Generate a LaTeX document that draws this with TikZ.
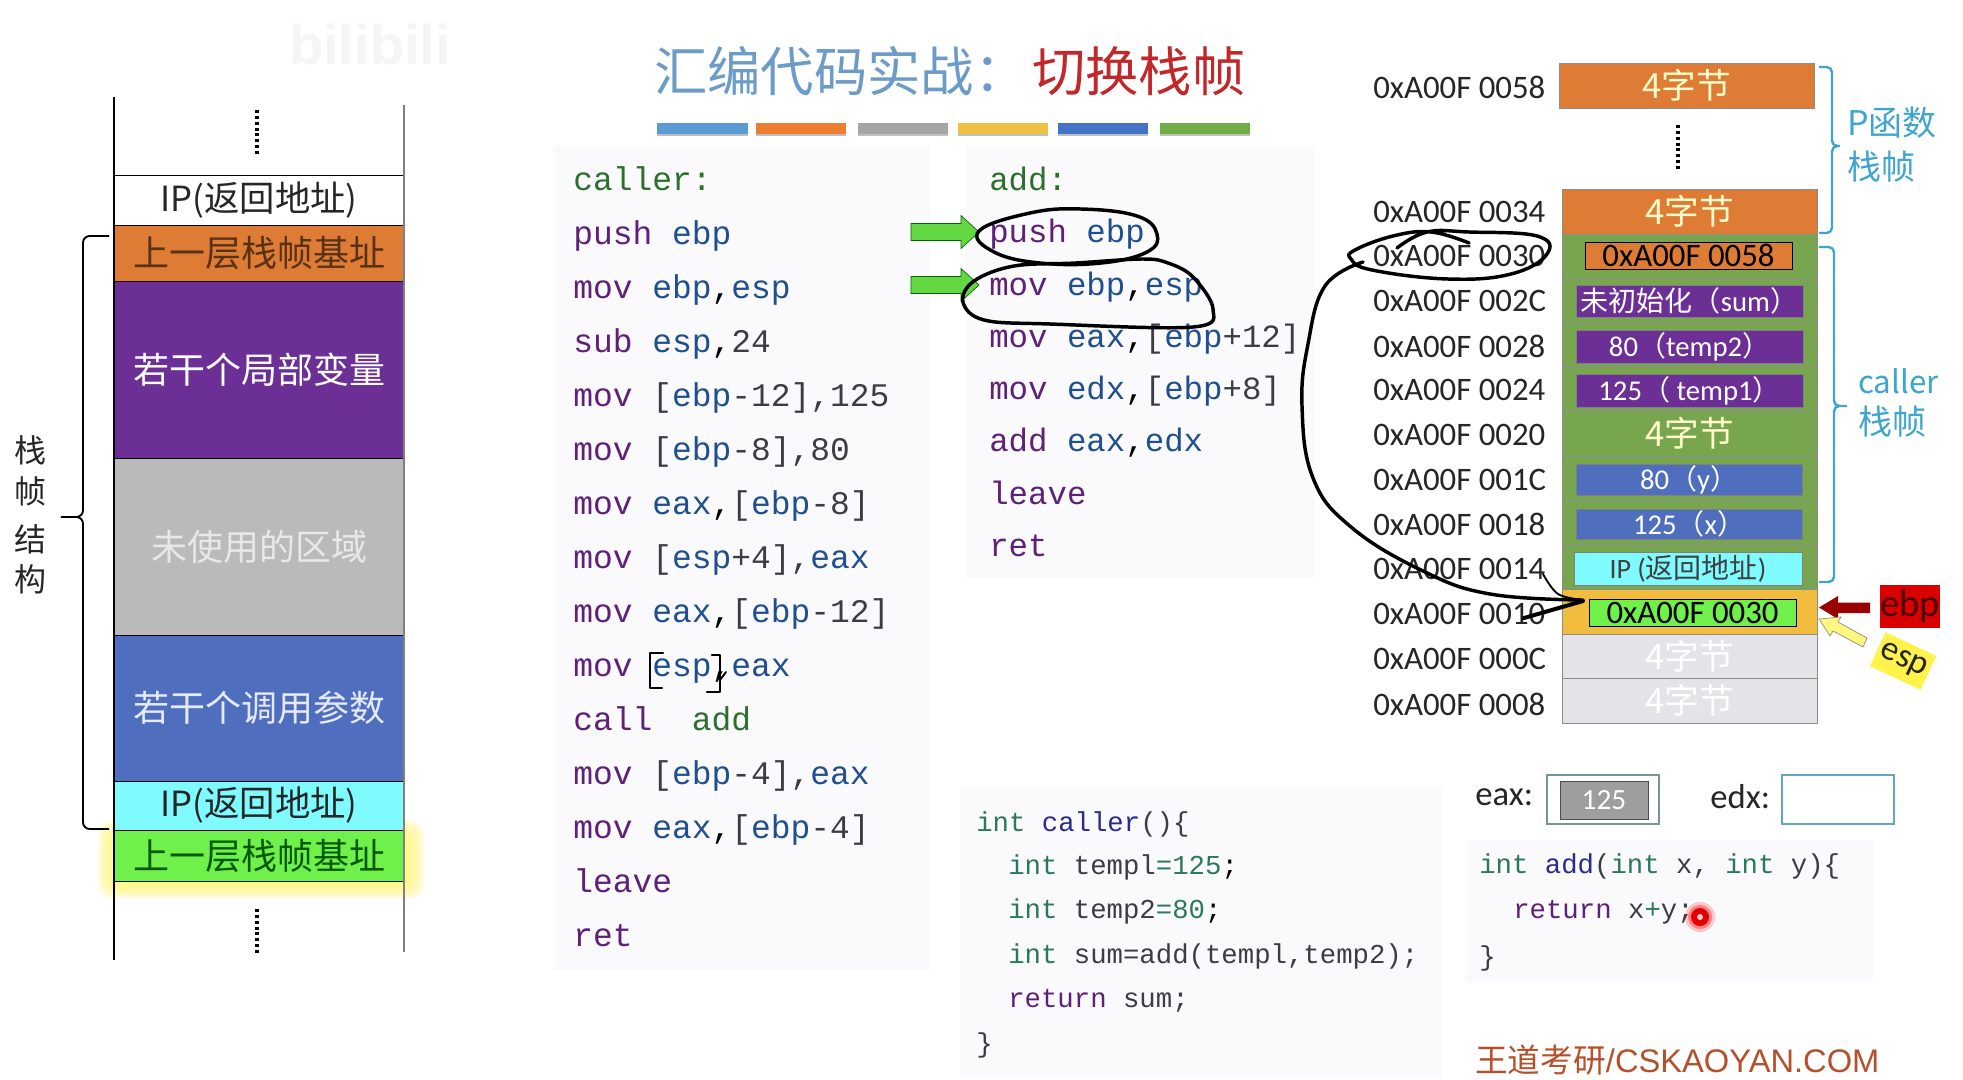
\documentclass[tikz,border=0pt]{standalone}
\usepackage{fontspec}
\setmainfont{Carlito}
\newfontfamily\zh{Noto Sans CJK SC}
\newfontfamily\mono{Liberation Mono}
\newfontfamily\lib{Liberation Sans}
\newcommand{\fs}[1]{\fontsize{#1}{#1}\selectfont}
\definecolor{kwc}{HTML}{5E2078}
\definecolor{regc}{HTML}{1F4F8F}
\definecolor{numc}{HTML}{3C3C44}
\definecolor{labc}{HTML}{2C702C}
\definecolor{intc}{HTML}{2A7A5A}
\definecolor{fnc}{HTML}{2A2A90}
\definecolor{panel}{HTML}{FAF9FC}
\definecolor{bluebr}{HTML}{3FA5D0}
\definecolor{rowgreen}{HTML}{78A64E}
\definecolor{rowor}{HTML}{DE7C36}
\definecolor{purp}{HTML}{6B2F96}
\definecolor{stblue}{HTML}{4F6FBE}
\definecolor{titleblue}{HTML}{6C9BC8}
\definecolor{titlered}{HTML}{C0282A}
\definecolor{rust}{HTML}{B5502A}
\definecolor{lgray}{HTML}{E4E4E8}
\definecolor{lcyan}{HTML}{7FFBFF}
\definecolor{lgreen}{HTML}{6FF04A}
\definecolor{rowyel}{HTML}{F2BC3E}
\definecolor{paleyel}{HTML}{FFF24A}
\newcommand{\K}[1]{\textcolor{kwc}{#1}}
\newcommand{\R}[1]{\textcolor{regc}{#1}}
\newcommand{\N}[1]{\textcolor{numc}{#1}}
\newcommand{\G}[1]{\textcolor{labc}{#1}}
\newcommand{\I}[1]{\textcolor{intc}{#1}}
\newcommand{\F}[1]{\textcolor{fnc}{#1}}
\newcommand{\bx}[7]{%
  \pgfmathsetmacro\bxa{(#2+#4)/2}\pgfmathsetmacro\bxb{(#3+#5)/2}%
  \pgfmathsetmacro\bxw{(#4-#2)*0.75}\pgfmathsetmacro\bxh{(#5-#3)*0.75}%
  \node[#6,minimum width=\bxw pt,minimum height=\bxh pt,inner sep=0pt,outer sep=0pt] (#1) at (\bxa,\bxb) {#7};}
\tikzset{
  code/.style={anchor=base west,inner sep=0pt,font=\mono\fs{24.7}},
  addcode/.style={anchor=base west,inner sep=0pt,font=\mono\fs{24.3}},
  ccode/.style={anchor=base west,inner sep=0pt,font=\mono\fs{20.5}},
  addr/.style={anchor=west,inner sep=0pt,font=\fs{24.6},text=black!85},
  lrow/.style={draw=black,line width=0.7pt,font=\zh\fs{27}},
  rrow/.style={draw=black!45,line width=0.5pt,font=\zh\fs{26}},
  inner/.style={draw=black!50,line width=0.5pt,font=\fs{21.5},text=white},
  ink/.style={draw=black,line width=2.6pt,line cap=round,line join=round},
  bluebrace/.style={draw=bluebr,line width=1.8pt,rounded corners=4pt},
  bluetext/.style={anchor=west,inner sep=0pt,text=bluebr,font=\zh\fs{25.5}},
  dotsv/.style={draw=black,line width=2.4pt,dash pattern=on 2.2pt off 2.2pt},
}
\begin{document}
\begin{tikzpicture}[x=0.75pt,y=-0.75pt]
\useasboundingbox (0,0) rectangle (1963,1079);
\fill[white] (0,0) rectangle (1963,1079);

% faint watermark
\node[inner sep=0pt,text=black!4,font=\lib\bfseries\fs{42}] (wm) at (370,44) {bilibili};

% panels
\fill[panel] (553,145) rectangle (930,970);
\fill[panel] (966,145) rectangle (1315,578);
\fill[panel] (960,787) rectangle (1442,1079);
\fill[panel] (1465,840) rectangle (1873,983);

% title
\node[anchor=west,inner sep=0pt,text=titleblue,font=\zh\fs{40}] (t1) at (654,71) {汇编代码实战：};
\node[anchor=west,inner sep=0pt,text=titlered,font=\zh\fs{40}] (t2) at (1032,71) {切换栈帧};

% colour bars
\foreach \a/\b/\c in {657/748/5B9BD5,756/846/ED7D31,858/948/A5A5A5,958/1048/F0C040,1058/1148/4472C4,1160/1250/70AD47}{
  \fill[black!25] (\a,126) rectangle (\b,136);
  \definecolor{tmpc}{HTML}{\c}
  \fill[tmpc] (\a,123) rectangle (\b,134);
}

% left stack: glow
\foreach \i in {0,1,...,16}{
  \fill[yellow!55,opacity=0.08,rounded corners=10pt] (97+\i,820+\i*0.8) rectangle (425-\i,899-\i*0.8);
}
\bx{s1}{114}{175}{404}{225}{lrow,fill=white,text=black!85}{{\fs{26}IP(}{\fs{26.5}返回地址}{\fs{26})}}
\bx{s2}{114}{225}{404}{281}{lrow,fill=rowor,text=black!60!rowor}{上一层栈帧基址}
\bx{s3}{114}{281}{404}{458}{lrow,fill=purp,text=white}{若干个局部变量}
\bx{s4}{114}{458}{404}{635}{lrow,fill=black!27,text=black!9}{未使用的区域}
\bx{s5}{114}{635}{404}{781}{lrow,fill=stblue,text=white!85!stblue}{若干个调用参数}
\bx{s6}{114}{781}{404}{830}{lrow,fill=lcyan,text=black!85}{{\fs{26}IP(}{\fs{26.5}返回地址}{\fs{26})}}
\bx{s7}{114}{830}{404}{881}{lrow,fill=lgreen,text=black!65!green}{上一层栈帧基址}
\draw[black,line width=1pt] (114,97) -- (114,960);
\draw[black!50,line width=1.3pt] (404,105) -- (404,952);
\draw[dotsv] (257,110) -- (257,156);
\draw[dotsv] (257,909) -- (257,953);
\draw[black,line width=1.4pt,rounded corners=5pt] (109,236) -- (83,236) -- (83,517) -- (57,517) -- (83,517) -- (83,829) -- (109,829);
\foreach \ch/\yy/\nm in {栈/450/a,帧/491/b,结/539/c,构/579/d}{
  \node[inner sep=0pt,text=black!85,font=\zh\fs{24}] (side\nm) at (30,\yy) {\ch};
}

% code: caller
\node[code] (c0) at (573,190) {\G{caller:}};
\node[code] (c1) at (573,244) {\K{push} \R{ebp}};
\node[code] (c2) at (573,298) {\K{mov} \R{ebp},\R{esp}};
\node[code] (c3) at (573,352) {\K{sub} \R{esp},\N{24}};
\node[code] (c4) at (573,406) {\K{mov} \N{[}\R{ebp}\N{-12],125}};
\node[code] (c5) at (573,460) {\K{mov} \N{[}\R{ebp}\N{-8],80}};
\node[code] (c6) at (573,514) {\K{mov} \R{eax},\N{[}\R{ebp}\N{-8]}};
\node[code] (c7) at (573,568) {\K{mov} \N{[}\R{esp}\N{+4],}\R{eax}};
\node[code] (c8) at (573,622) {\K{mov} \R{eax},\N{[}\R{ebp}\N{-12]}};
\node[code] (c9) at (573,676) {\K{mov} \R{esp},\R{eax}};
\node[code] (c10) at (573,730) {\K{call}\ \ \G{add}};
\node[code] (c11) at (573,784) {\K{mov} \N{[}\R{ebp}\N{-4],}\R{eax}};
\node[code] (c12) at (573,838) {\K{mov} \R{eax},\N{[}\R{ebp}\N{-4]}};
\node[code] (c13) at (573,892) {\K{leave}};
\node[code] (c14) at (573,946) {\K{ret}};

% code: add
\node[addcode] (a0) at (989,190) {\G{add:}};
\node[addcode] (a1) at (989,242) {\K{push} \R{ebp}};
\node[addcode] (a2) at (989,295) {\K{mov} \R{ebp},\R{esp}};
\node[addcode] (a3) at (989,347) {\K{mov} \R{eax},\N{[}\R{ebp}\N{+12]}};
\node[addcode] (a4) at (989,399) {\K{mov} \R{edx},\N{[}\R{ebp}\N{+8]}};
\node[addcode] (a5) at (989,451) {\K{add} \R{eax},\R{edx}};
\node[addcode] (a6) at (989,504) {\K{leave}};
\node[addcode] (a7) at (989,556) {\K{ret}};

% C code
\node[ccode] (k0) at (976,831) {\I{int} \F{caller}\N{()\{}};
\node[ccode] (k1) at (1008,874) {\I{int} \N{templ}\I{=125};};
\node[ccode] (k2) at (1008,918) {\I{int} \N{temp2}\I{=80};};
\node[ccode] (k3) at (1008,963) {\I{int} \N{sum=add(templ,temp2);}};
\node[ccode] (k4) at (1008,1007) {\K{return} \N{sum;}};
\node[ccode] (k5) at (976,1052) {\N{\}}};
\node[ccode] (m0) at (1479,873) {\I{int} \F{add}\N{(}\I{int} \N{x,} \I{int} \N{y)\{}};
\node[ccode] (m1) at (1513,918) {\K{return} \N{x}\I{+}\N{y;}};
\node[ccode] (m2) at (1479,965) {\N{\}}};

% green arrows
\foreach \yc in {232,285}{
  \fill[fill=lgreen!90!black,draw=black!60!green,line width=0.5pt]
    (911,\yc-8.5) -- (961,\yc-8.5) -- (961,\yc-16.5) -- (979,\yc) -- (961,\yc+16.5) -- (961,\yc+8.5) -- (911,\yc+8.5) -- cycle;
}

% right stack
\bx{r58}{1559}{63}{1814}{108}{rrow,fill=rowor,text=white!80!yellow}{4字节}
\draw[dotsv] (1678,125) -- (1678,169);
\bx{r34}{1562}{189}{1817}{234}{rrow,fill=rowor,text=white!80!yellow}{4字节}
\bx{r30}{1562}{234}{1817}{278}{rrow,fill=rowgreen}{}
\bx{r2C}{1562}{278}{1817}{322}{rrow,fill=rowgreen}{}
\bx{r28}{1562}{322}{1817}{367}{rrow,fill=rowgreen}{}
\bx{r24}{1562}{367}{1817}{411}{rrow,fill=rowgreen}{}
\bx{r20}{1562}{411}{1817}{456}{rrow,fill=rowgreen,text=white!80!yellow}{4字节}
\bx{r1C}{1562}{456}{1817}{501}{rrow,fill=rowgreen}{}
\bx{r18}{1562}{501}{1817}{545}{rrow,fill=rowgreen}{}
\bx{r14}{1562}{545}{1817}{589}{rrow,fill=rowgreen}{}
\bx{r10}{1562}{589}{1817}{634}{rrow,fill=rowyel}{}
\bx{r0C}{1562}{634}{1817}{678}{rrow,fill=lgray,text=white}{4字节}
\bx{r08}{1562}{678}{1817}{723}{rrow,fill=lgray,text=white}{4字节}
\bx{i30}{1585}{242}{1792}{269}{draw=black,line width=0.6pt,fill=rowor,font=\fs{24.6},text=black}{0xA00F 0058}
\bx{i2C}{1576}{285}{1803}{317}{inner,fill=purp}{{\zh\fs{21}未初始化（}sum{\zh\fs{21}）}}
\bx{i28}{1576}{330}{1803}{363}{inner,fill=purp}{80{\zh\fs{21}（}temp2{\zh\fs{21}）}}
\bx{i24}{1576}{374}{1803}{407}{inner,fill=purp}{125{\zh\fs{21}（} temp1{\zh\fs{21}）}}
\bx{i1C}{1576}{464}{1802}{495}{inner,fill=stblue}{80{\zh\fs{21}（}y{\zh\fs{21}）}}
\bx{i18}{1576}{509}{1802}{539}{inner,fill=stblue}{125{\zh\fs{21}（}x{\zh\fs{21}）}}
\bx{i14}{1574}{552}{1802}{585}{inner,fill=lcyan,text=black!75,font=\fs{21}}{IP ({\zh 返回地址})}
\bx{i10}{1589}{599}{1796}{626}{draw=black,line width=0.6pt,fill=lgreen,font=\fs{24.6},text=black}{0xA00F 0030}

% addresses
\foreach \t/\yy/\nm in {0xA00F 0058/87/a,0xA00F 0034/212/b,0xA00F 0030/256/c,0xA00F 002C/301/d,0xA00F 0028/346/e,0xA00F 0024/390/f,0xA00F 0020/435/g,0xA00F 001C/480/h,0xA00F 0018/524/i,0xA00F 0014/569/j,0xA00F 0010/614/k,0xA00F 000C/659/l,0xA00F 0008/704/m}{
  \node[addr] (addr\nm) at (1373,\yy) {\t};
}

% blue braces
\draw[bluebrace] (1819,67) -- (1832,67) -- (1832,146) -- (1843,146) -- (1832,146) -- (1832,233) -- (1819,233);
\draw[bluebrace] (1819,247) -- (1834,247) -- (1834,406) -- (1850,406) -- (1834,406) -- (1834,582) -- (1819,582);
\node[bluetext] (lp) at (1847,123) {P函数};
\node[bluetext] (lp2) at (1847,167) {栈帧};
\node[bluetext,font=\zh\fs{23.5}] (lc) at (1858,381) {caller};
\node[bluetext] (lc2) at (1858,422) {栈帧};

% ebp / esp
\bx{ebp}{1881}{585}{1939}{628}{fill=red!85!black,font=\fs{29},text=red!30!black}{ebp}
\fill[fill=red!60!black] (1870,602.5) -- (1838,602.5) -- (1838,596) -- (1819,607.5) -- (1838,619) -- (1838,613) -- (1870,613) -- cycle;
\draw[fill=paleyel!70!white,draw=black!45,line width=0.5pt] (1867,638) -- (1838,622) -- (1841,617) -- (1819,619) -- (1830,636) -- (1833,631) -- (1863,647) -- cycle;
\node[fill=paleyel,rotate=-25,minimum width=42pt,minimum height=28pt,inner sep=0pt,font=\fs{26},text=black!85] (esp) at (1903,661) {esp};

% eax / edx
\node[anchor=west,inner sep=0pt,font=\fs{26},text=black!85] (eaxl) at (1475,797) {eax:};
\bx{eaxo}{1547}{775}{1659}{824}{draw=black!30!cyan!40!gray,line width=1pt,fill=white}{}
\bx{eaxi}{1560}{781}{1648}{819}{draw=black!70,line width=0.7pt,fill=black!38,text=white,font=\fs{22}}{125}
\node[anchor=west,inner sep=0pt,font=\fs{26},text=black!85] (edxl) at (1710,797) {edx:};
\bx{edxo}{1782}{775}{1894}{824}{draw=cyan!50!gray,line width=1pt,fill=white}{}

% footer
\node[anchor=west,inner sep=0pt,text=rust] (foot) at (1475,1060) {{\zh\fs{24.5}王道考研}{\lib\fs{24.5}/CSKAOYAN.COM}};

% ink annotations
\draw[ink] plot[smooth cycle,tension=0.7] coordinates {(979,231) (1030,213) (1081,209) (1137,216) (1157,234) (1147,252) (1101,263) (1040,263) (994,252)};
\draw[ink] plot[smooth cycle,tension=0.6] coordinates {(1142,259) (1076,263) (1014,266) (974,281) (963,302) (984,320) (1050,324) (1193,327) (1213,309) (1193,277) (1168,263)};
\draw[ink,line width=1.8pt] (663,653) -- (650,653) -- (650,688) -- (662,688);
\draw[ink,line width=1.8pt] (712,655) -- (720,655) -- (720,692) -- (707,692);
\draw[ink,line width=1.4pt] (720,680) -- (726,672);
\draw[ink] plot[smooth,tension=0.7] coordinates {(1469,243) (1431,232) (1393,236) (1355,250) (1351,259) (1372,270) (1448,279) (1511,274) (1547,254) (1537,236) (1469,232) (1427,232) (1397,248)};
\draw[ink] plot[smooth,tension=0.7] coordinates {(1363,262) (1325,286) (1308,344) (1302,406) (1313,478) (1351,527) (1423,571) (1490,594) (1583,600)};
\draw[ink,line width=3pt] (1583,601) -- (1524,618);
\draw[ink,line width=1.4pt] plot[smooth,tension=0.6] coordinates {(1583,600) (1558,594) (1543,574)};

% pointer dot
\fill[red,opacity=0.2] (1700,917) circle (15);
\fill[red,opacity=0.35] (1700,917) circle (12);
\fill[red!90!black] (1700,917) circle (9);
\fill[red!20!white] (1700,917) circle (3);
\end{tikzpicture}
\end{document}
